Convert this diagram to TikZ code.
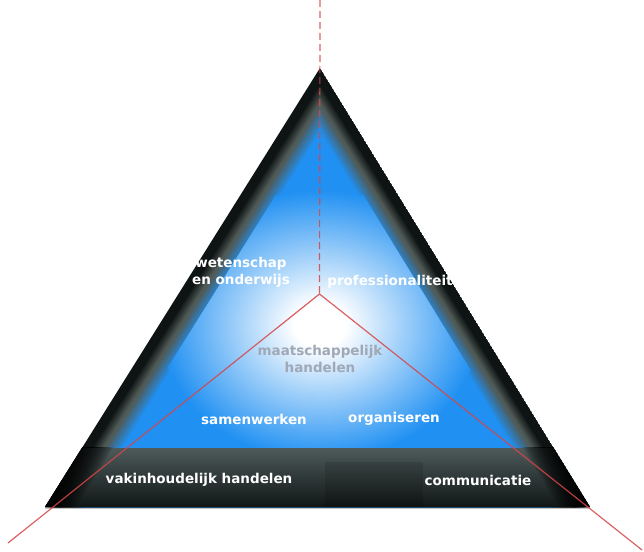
\documentclass[tikz,border=0pt]{standalone}
\usepackage{fontspec}
\setmainfont{DejaVu Sans}

\definecolor{edgedark}{RGB}{14,20,20}
\definecolor{edgegray}{RGB}{80,90,86}
\definecolor{skyblue}{RGB}{32,144,242}
\definecolor{bandtop}{RGB}{78,90,90}
\definecolor{bandbot}{RGB}{16,22,22}
\definecolor{redline}{RGB}{214,70,72}
\definecolor{softgray}{RGB}{160,168,182}

\pgfdeclareradialshading{core}{\pgfpoint{0bp}{0bp}}{color(0bp)=(white); color(4bp)=(white); color(25bp)=(skyblue); color(50bp)=(skyblue)}

% triangle whose slanted sides are moved inwards by #1
\newcommand\tri[1]{(320,{68+1.88*#1}) -- ({45+1.18*#1},507) -- ({590-1.18*#1},507) -- cycle}

\begin{document}
\begin{tikzpicture}[x=1pt,y=-1pt,
        lbl/.style={font=\bfseries\fontsize{13.5}{17}\selectfont,text=white,align=center,inner sep=0pt},
        axis line/.style={redline,line width=1.2pt,opacity=.85}]
        \useasboundingbox (0,0) rectangle (644,551);
        \begin{scope}
        \clip \tri{0};
        % dark rim to blue
        \foreach \d in {0,...,34} {
          \ifnum\d<19
            \pgfmathsetmacro\p{max(0,min(100,(\d-8)*10))}
            \colorlet{cur}{edgegray!\p!edgedark}
          \else
            \pgfmathsetmacro\p{(\d-19)*100/15}
            \colorlet{cur}{skyblue!\p!edgegray}
          \fi
          \fill[cur] \tri{\d};
        }
        % light core
        \begin{scope}
        \clip \tri{30};
        \shade[shading=core] (320,325) ellipse [x radius=160,y radius=135];
        \end{scope}
        % bottom band
        \fill[top color=bandtop,bottom color=bandbot] (0,448) rectangle (644,507);
        \fill[black,opacity=.12] (325,462) rectangle (423,507);
        \begin{scope}
        \clip (0,447) rectangle (644,507);
        \foreach \d in {2,4,...,26}
          \fill[black,opacity=.14,even odd rule] \tri{0} \tri{\d};
        \end{scope}
        \end{scope}
        \draw[gray!45,line width=1pt] (45,508) -- (590,508);

        \coordinate (top) at (320,0);
        \coordinate (mid) at (319.5,294);
        \coordinate (lend) at (8,543);
        \coordinate (rend) at (642,550);
        \draw[axis line,dash pattern=on 7pt off 4pt] (top) -- (mid);
        \draw[axis line] (lend) -- (mid) -- (rend);

        \node[lbl] (wet) at (241,272) {wetenschap\\en onderwijs};
        \node[lbl] (prof) at (390,282) {professionaliteit};
        \node[lbl,text=softgray] (maat) at (320,359) {maatschappelijk\\handelen};
        \node[lbl] (samen) at (254,419) {samenwerken};
        \node[lbl] (org) at (394,419) {organiseren};
        \node[lbl] (vak) at (199,480) {vakinhoudelijk handelen};
        \node[lbl] (comm) at (478,480) {communicatie};
\end{tikzpicture}
\end{document}
